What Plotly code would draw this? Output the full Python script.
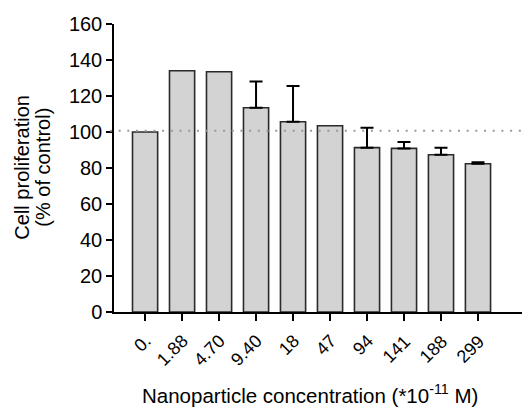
import plotly.graph_objects as go

categories = ["0.", "1.88", "4.70", "9.40", "18", "47", "94", "141", "188", "299"]
values = [100, 134, 133.5, 113.5, 105.7, 103.5, 91.3, 90.9, 87.4, 82.4]
errors_up = [0, 0, 0, 14.5, 19.8, 0, 11.0, 3.5, 3.9, 0.8]
error_visible = [False, False, False, True, True, False, True, True, True, True]
reference_level = 100.7

font_family = "Arial"

fig = go.Figure()
fig.add_trace(go.Bar(
    x=categories,
    y=values,
    width=0.68,
    marker=dict(color="#d3d3d3", line=dict(color="#2a2a2a", width=1.6)),
    showlegend=False,
))
# upper-only error bars for bars that show them
ex = [c for c, v in zip(categories, error_visible) if v]
ey = [y for y, v in zip(values, error_visible) if v]
ee = [e for e, v in zip(errors_up, error_visible) if v]
fig.add_trace(go.Scatter(
    x=ex, y=ey, mode="markers",
    marker=dict(size=1, color="rgba(0,0,0,0)"),
    error_y=dict(type="data", symmetric=False, array=ee,
                 arrayminus=[0] * len(ee), color="#000000",
                 thickness=2, width=6.5),
    showlegend=False, hoverinfo="skip",
))

fig.add_shape(
    type="line", xref="paper", yref="y",
    x0=-0.01, x1=1.0, y0=reference_level, y1=reference_level,
    line=dict(color="#999999", width=2.2, dash="2px,6.7px"),
    layer="above",
)

fig.update_layout(
    width=526, height=408,
    margin=dict(l=114, r=4, t=24, b=96),
    paper_bgcolor="white", plot_bgcolor="white",
    font=dict(family=font_family, color="#000000", size=16),
)

fig.update_xaxes(
    type="category",
    categoryorder="array", categoryarray=categories,
    range=[-0.84, 10.19],
    showticklabels=False,
    ticks="outside", ticklen=7, tickwidth=1.5, tickcolor="#000000",
    showline=True, linecolor="#000000", linewidth=1.5,
    showgrid=False, zeroline=False,
)
fig.update_yaxes(
    range=[0, 160], dtick=20,
    tickfont=dict(size=20),
    ticks="outside", ticklen=6, tickwidth=1.5, tickcolor="#000000",
    showline=True, linecolor="#000000", linewidth=1.5,
    showgrid=False, zeroline=False,
)

# rotated category labels placed on the x axis (category index positions)
for i, cat in enumerate(categories):
    fig.add_annotation(
        text=cat, x=i, xref="x", y=-0.0556, yref="paper",
        xanchor="right", yanchor="top", xshift=13,
        textangle=-45, showarrow=False,
        font=dict(size=18),
    )

fig.add_annotation(
    text="Cell proliferation",
    xref="paper", yref="paper",
    x=(22.5 - 114) / 408, y=0.503, xanchor="center", yanchor="middle",
    textangle=-90, showarrow=False,
    font=dict(size=20),
)
fig.add_annotation(
    text="(% of control)",
    xref="paper", yref="paper",
    x=(43.5 - 114) / 408, y=0.503, xanchor="center", yanchor="middle",
    textangle=-90, showarrow=False,
    font=dict(size=20),
)
fig.add_annotation(
    text="Nanoparticle concentration (*10<sup>-11</sup> M)",
    xref="paper", yref="paper",
    x=0.48, y=-0.285, xanchor="center", yanchor="middle",
    showarrow=False,
    font=dict(size=20.5),
)

fig.write_html("out.html")
